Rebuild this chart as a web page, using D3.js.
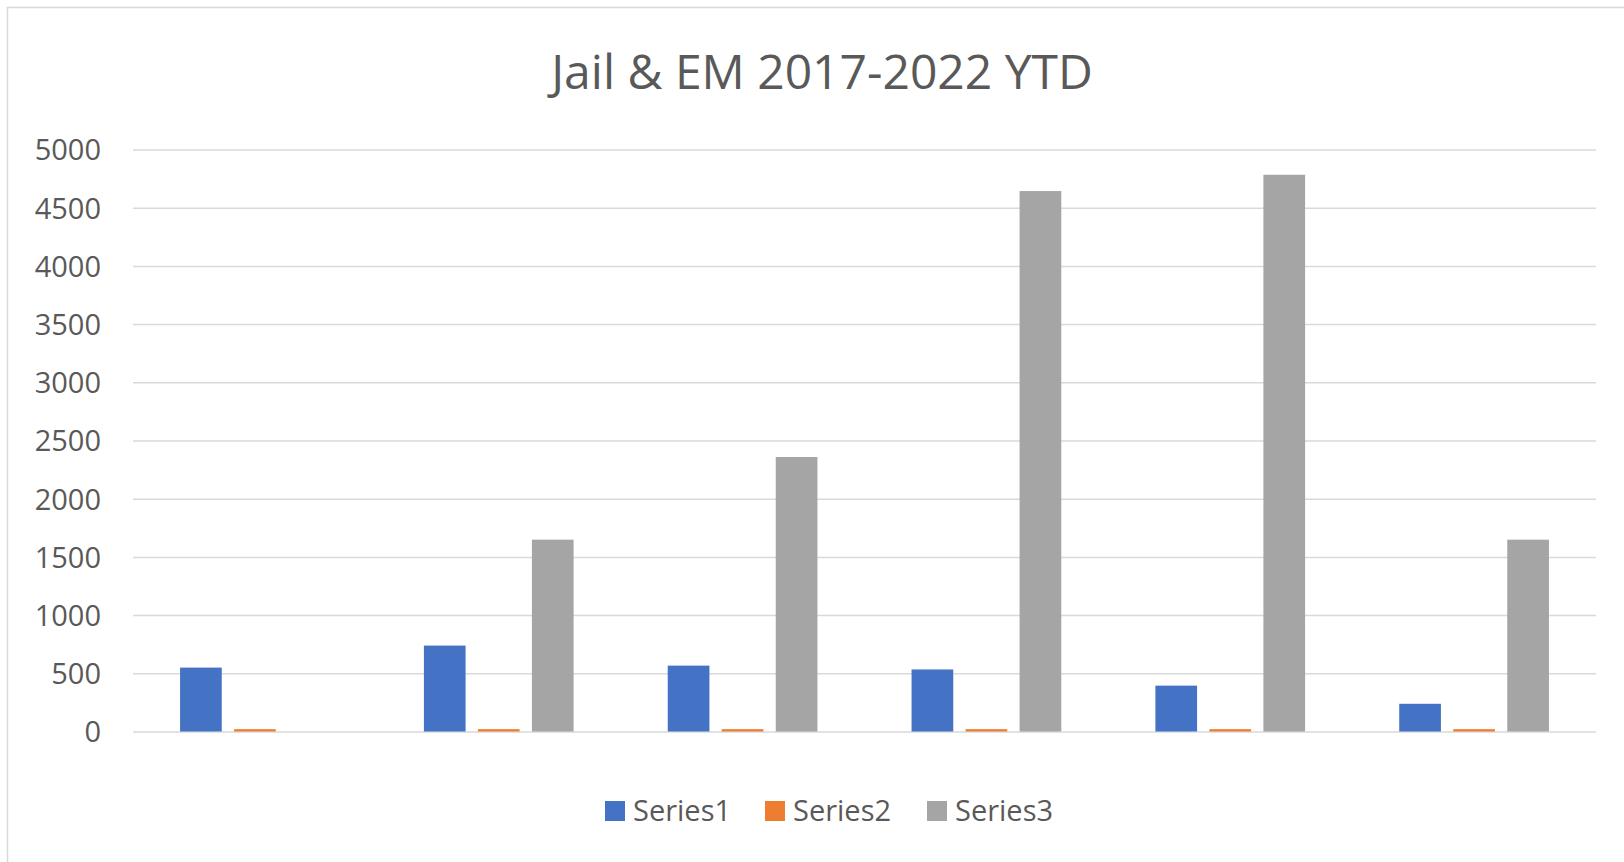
<!DOCTYPE html>
<html>
<head>
<meta charset="utf-8">
<script src="https://cdn.jsdelivr.net/npm/d3@7"></script>
<style>
  html, body { margin: 0; padding: 0; background: #ffffff; }
  svg { display: block; }
</style>
</head>
<body>
<svg id="chart" width="1624" height="862"></svg>
<script>
// Chart data
const categories = ["2017", "2018", "2019", "2020", "2021", "2022 YTD"];
const seriesNames = ["Series1", "Series2", "Series3"];
const series1 = [549, 738, 566, 533, 394, 238];
const series2 = [20, 20, 20, 20, 20, 20];
const series3 = [0, 1648, 2358, 4643, 4783, 1648];
const yTicks = [0, 500, 1000, 1500, 2000, 2500, 3000, 3500, 4000, 4500, 5000];
const seriesColors = ["#4472C4", "#ED7D31", "#A5A5A5"];
const titleText = "Jail & EM 2017-2022 YTD";

const seriesValues = [series1, series2, series3];
const rows = categories.map((c, i) => ({
  category: c,
  values: seriesNames.map((s, k) => ({ series: s, value: seriesValues[k][i] }))
}));

const W = 1624, H = 862;
const plot = { left: 133, right: 1596, top: 149.5, bottom: 731.5 };
const font = "'Open Sans', 'Noto Sans', sans-serif";
const textColor = "#595959";
const gridColor = "#d9d9d9";

const svg = d3.select("#chart");

// Chart area outline (only top and left edges fall inside the view)
svg.append("rect")
  .attr("x", 7.5).attr("y", 7.5)
  .attr("width", W + 20).attr("height", H + 20)
  .attr("fill", "#ffffff")
  .attr("stroke", gridColor)
  .attr("stroke-width", 1.5);

// Title
svg.append("text")
  .attr("x", 822).attr("y", 89)
  .attr("text-anchor", "middle")
  .attr("font-family", font)
  .attr("font-size", 48)
  .attr("fill", textColor)
  .text(titleText);

// Scales
const x0 = d3.scaleBand()
  .domain(categories)
  .range([plot.left, plot.right])
  .paddingInner(0.386)
  .paddingOuter(0.193);

const x1 = d3.scaleBand()
  .domain(seriesNames)
  .range([0, x0.bandwidth()])
  .paddingInner(0.228)
  .paddingOuter(0);

const y = d3.scaleLinear()
  .domain([0, 5000])
  .range([plot.bottom, plot.top]);

// Gridlines + tick labels via a left axis
const yAxis = d3.axisLeft(y)
  .tickValues(yTicks)
  .tickSize(-(plot.right - plot.left))
  .tickPadding(32)
  .tickFormat(d3.format("d"));

const gAxis = svg.append("g")
  .attr("transform", `translate(${plot.left},0)`)
  .call(yAxis);
gAxis.select(".domain").remove();
gAxis.selectAll(".tick line")
  .attr("stroke", gridColor)
  .attr("stroke-width", 1.5);
gAxis.selectAll(".tick text")
  .attr("font-family", font)
  .attr("font-size", 29)
  .attr("fill", textColor)
  .attr("dy", "0.36em");

// Bars
const groups = svg.append("g").selectAll("g")
  .data(rows)
  .join("g")
  .attr("transform", d => `translate(${x0(d.category)},0)`);

groups.selectAll("rect")
  .data(d => d.values)
  .join("rect")
  .attr("x", d => x1(d.series))
  .attr("width", x1.bandwidth())
  .attr("y", d => y(d.value))
  .attr("height", d => y(0) - y(d.value))
  .attr("fill", (d, i) => seriesColors[i]);

// Legend
const legendX = [605, 765, 927];
const legend = svg.append("g");
seriesNames.forEach((name, i) => {
  legend.append("rect")
    .attr("x", legendX[i]).attr("y", 801)
    .attr("width", 20).attr("height", 20)
    .attr("fill", seriesColors[i]);
  legend.append("text")
    .attr("x", legendX[i] + 28).attr("y", 821)
    .attr("font-family", font)
    .attr("font-size", 29)
    .attr("fill", textColor)
    .text(name);
});
</script>
</body>
</html>
